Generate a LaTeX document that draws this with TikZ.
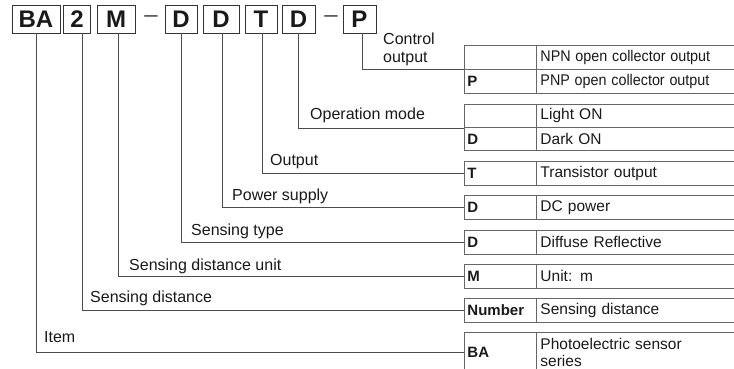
\documentclass[tikz,border=0pt]{standalone}
\usepackage{fontspec}
\setmainfont{Liberation Sans}
\usetikzlibrary{positioning}

\begin{document}
\begin{tikzpicture}[x=1pt, y=-1pt,
    letter/.style={draw=black!80, line width=0.9pt, minimum height=28pt, inner sep=0pt, text=black!90, font=\fontsize{24}{26}\selectfont\bfseries},
    code/.style={draw=black!60, line width=0.9pt, anchor=north west, minimum height=24pt, text width=66pt, inner xsep=3pt, inner ysep=0pt, align=left, text=black!90, font=\fontsize{15}{16}\selectfont\bfseries},
    desc/.style={code, text width=230pt, inner xsep=4pt, font=\fontsize{15.5}{16.5}\selectfont},
    part/.style={anchor=base west, inner sep=0pt, text=black!90, font=\fontsize{16}{18}\selectfont},
    lead/.style={draw=black!70, line width=0.8pt}]
    \useasboundingbox (0,0) rectangle (734,369);
    % type code
    \node (bBA) at (36,19)    [letter, minimum width=48pt] {BA};
    \node (b2)  at (77,19)    [letter, minimum width=27pt] {2};
    \node (bM)  at (116,19)   [letter, minimum width=38pt] {M};
    \node (h1)  at (151,19)   [inner sep=0pt, text=black!70, font=\fontsize{24}{26}\selectfont] {--};
    \node (bD1) at (181,19)   [letter, minimum width=32pt] {D};
    \node (bD2) at (221,19)   [letter, minimum width=36pt] {D};
    \node (bT)  at (261,19)   [letter, minimum width=32pt] {T};
    \node (bD3) at (298.5,19) [letter, minimum width=33pt] {D};
    \node (h2)  at (331,19)   [inner sep=0pt, text=black!70, font=\fontsize{24}{26}\selectfont] {--};
    \node (bP)  at (359.5,19) [letter, minimum width=33pt] {P};
    % tables
    \node (cNPN) at (464,45)  [code] {};
    \node (dNPN) at (536,45)  [desc] {\scalebox{0.925}[1]{NPN open collector output}};
    \node (cPNP) at (464,69)  [code] {P};
    \node (dPNP) at (536,69)  [desc] {\scalebox{0.925}[1]{PNP open collector output}};
    \node (cLight) at (464,104) [code, minimum height=23pt] {};
    \node (dLight) at (536,104) [desc, minimum height=23pt] {Light ON};
    \node (cDark) at (464,127) [code, minimum height=23pt] {D};
    \node (dDark) at (536,127) [desc, minimum height=23pt] {Dark ON};
    \node (cT)   at (464,161) [code] {T};
    \node (dT)   at (536,161) [desc] {Transistor output};
    \node (cDC)  at (464,195) [code] {D};
    \node (dDC)  at (536,195) [desc] {DC power};
    \node (cDif) at (464,230) [code] {D};
    \node (dDif) at (536,230) [desc] {Diffuse Reflective};
    \node (cM)   at (464,264) [code] {M};
    \node (dM)   at (536,264) [desc] {Unit: m};
    \node (cNum) at (464,298) [code] {Number};
    \node (dNum) at (536,298) [desc] {Sensing distance};
    \node (cBA)  at (464,332) [code, minimum height=40pt] {BA};
    \node (dBA)  at (536,332) [desc, minimum height=40pt] {Photoelectric sensor\\series};
    % leaders
    \draw[lead] ([xshift=2.5pt]bP.south) |- (cNPN.south west);
    \draw[lead] (bD3.south) |- (cLight.south west);
    \draw[lead] ([xshift=1pt]bT.south) |- (cT.west);
    \draw[lead] ([xshift=1pt]bD2.south) |- (cDC.west);
    \draw[lead] (bD1.south) |- (cDif.west);
    \draw[lead] ([xshift=2pt]bM.south) |- (cM.west);
    \draw[lead] ([xshift=5pt]b2.south) |- (cNum.west);
    \draw[lead] (bBA.south) |- (cBA.west);
    % labels
    \node (lP)   at (383,33) [part, anchor=north west, align=left] {Control\\output};
    \node (lD3)  at (310,120) [part] {Operation mode};
    \node (lT)   at (270,165) [part] {Output};
    \node (lD2)  at (232,200) [part] {Power supply};
    \node (lD1)  at (191,235) [part] {Sensing type};
    \node (lM)   at (129,270.5) [part] {Sensing distance unit};
    \node (l2)   at (90,302) [part] {Sensing distance};
    \node (lBA)  at (44,342) [part] {Item};
\end{tikzpicture}
\end{document}
